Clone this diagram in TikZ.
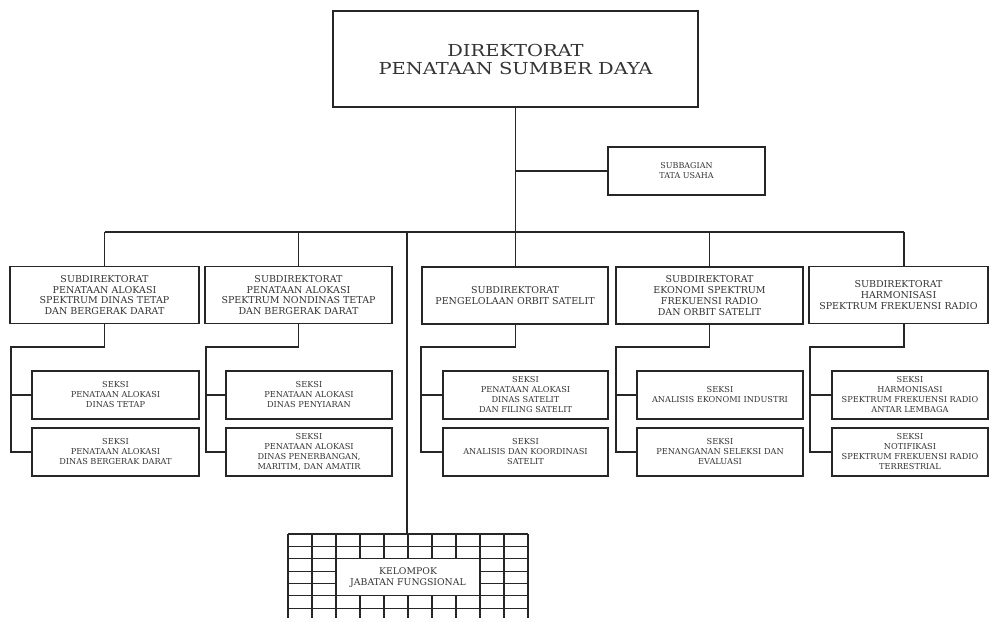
\documentclass[tikz,border=0pt]{standalone}
\usepackage{fontspec}
\setmainfont{DejaVu Serif}
\newfontfamily\headfont[FakeStretch=1.18]{DejaVu Serif}
\begin{document}
\begin{tikzpicture}[x=1pt,y=-1pt,
  line/.style={draw=black!85,line width=1.3pt},
  orgbox/.style={line,rectangle,align=center,inner sep=0pt,text=black!80},
  headbox/.style={orgbox,font=\headfont\fontsize{16.5}{18}\selectfont},
  subbox/.style={orgbox,minimum height=57pt,font=\fontsize{9.5}{10.8}\selectfont},
  seksibox/.style={orgbox,minimum height=48pt,font=\fontsize{8.2}{10}\selectfont},
  smallbox/.style={orgbox,font=\fontsize{8}{10}\selectfont},
  gridline/.style={draw=black!85,line width=1.1pt}
]
\useasboundingbox[fill=white] (0,0) rectangle (989,618);

% Director
\node[headbox,minimum width=365pt,minimum height=96pt] (dir) at (515.5,59)
  {DIREKTORAT\\PENATAAN SUMBER DAYA};

% Administration unit
\node[smallbox,minimum width=157pt,minimum height=48pt] (tu) at (686.5,171)
  {SUBBAGIAN\\TATA USAHA};

% Sub-directorates
\node[subbox,minimum width=189pt] (s1) at (104.5,295)
  {SUBDIREKTORAT\\PENATAAN ALOKASI\\SPEKTRUM DINAS TETAP\\DAN BERGERAK DARAT};
\node[subbox,minimum width=187pt] (s2) at (298.5,295)
  {SUBDIREKTORAT\\PENATAAN ALOKASI\\SPEKTRUM NONDINAS TETAP\\DAN BERGERAK DARAT};
\node[subbox,minimum width=186pt] (s3) at (515,295.5)
  {SUBDIREKTORAT\\PENGELOLAAN ORBIT SATELIT};
\node[subbox,minimum width=187pt] (s4) at (709.5,295.5)
  {SUBDIREKTORAT\\EKONOMI SPEKTRUM\\FREKUENSI RADIO\\DAN ORBIT SATELIT};
\node[subbox,minimum width=179pt] (s5) at (898.5,295)
  {SUBDIREKTORAT\\HARMONISASI\\SPEKTRUM FREKUENSI RADIO};

% Sections
\node[seksibox,minimum width=167pt] (k11) at (115.5,395)
  {SEKSI\\PENATAAN ALOKASI\\DINAS TETAP};
\node[seksibox,minimum width=167pt] (k12) at (115.5,452)
  {SEKSI\\PENATAAN ALOKASI\\DINAS BERGERAK DARAT};
\node[seksibox,minimum width=166pt] (k21) at (309,395)
  {SEKSI\\PENATAAN ALOKASI\\DINAS PENYIARAN};
\node[seksibox,minimum width=166pt] (k22) at (309,452)
  {SEKSI\\PENATAAN ALOKASI\\DINAS PENERBANGAN,\\MARITIM, DAN AMATIR};
\node[seksibox,minimum width=165pt] (k31) at (525.5,395)
  {SEKSI\\PENATAAN ALOKASI\\DINAS SATELIT\\DAN FILING SATELIT};
\node[seksibox,minimum width=165pt] (k32) at (525.5,452)
  {SEKSI\\ANALISIS DAN KOORDINASI\\SATELIT};
\node[seksibox,minimum width=166pt] (k41) at (720,395)
  {SEKSI\\ANALISIS EKONOMI INDUSTRI};
\node[seksibox,minimum width=166pt] (k42) at (720,452)
  {SEKSI\\PENANGANAN SELEKSI DAN\\EVALUASI};
\node[seksibox,minimum width=156pt] (k51) at (910,395)
  {SEKSI\\HARMONISASI\\SPEKTRUM FREKUENSI RADIO\\ANTAR LEMBAGA};
\node[seksibox,minimum width=156pt] (k52) at (910,452)
  {SEKSI\\NOTIFIKASI\\SPEKTRUM FREKUENSI RADIO\\TERRESTRIAL};

% Functional group: tiled grid with a plain panel in the middle
\foreach \i in {0,...,10}
  \draw[gridline] (288+24*\i,534) -- (288+24*\i,618);
\foreach \j in {0,...,6}
  \draw[gridline] (288,534+12.35*\j) -- (528,534+12.35*\j);
\node[smallbox,fill=white,line width=1.1pt,minimum width=144pt,minimum height=37pt,
  font=\fontsize{9.3}{11}\selectfont] (kjf) at (408,577.3)
  {KELOMPOK\\JABATAN FUNGSIONAL};
\coordinate (gtop) at (407,534);

% Main bus
\coordinate (busL) at (105,232);
\coordinate (busR) at (904,232);
\draw[line] (s1.north |- busL) -- (busR);

% Trunk from the director, with the administration branch
\draw[line] (dir.south) -- (dir.south |- s3.north);
\draw[line] (dir.south |- tu.west) -- (tu.west);

% Drops to the sub-directorates and the functional group
\draw[line] (s1.north |- busL) -- (s1.north);
\draw[line] (s2.north |- busL) -- (s2.north);
\draw[line] (s4.north |- busL) -- (s4.north);
\draw[line] (busR) -- (busR |- s5.north);
\draw[line] (gtop |- busL) -- (gtop);

% Elbows from each sub-directorate to its sections
\coordinate (j1) at (11,347);
\coordinate (j2) at (206,347);
\coordinate (j3) at (421,347);
\coordinate (j4) at (616,347);
\coordinate (j5) at (810,347);
\draw[line] (s1.south) |- (j1) |- (k12.west);
\draw[line] (j1 |- k11.west) -- (k11.west);
\draw[line] (s2.south) |- (j2) |- (k22.west);
\draw[line] (j2 |- k21.west) -- (k21.west);
\draw[line] (dir.south |- s3.south) |- (j3) |- (k32.west);
\draw[line] (j3 |- k31.west) -- (k31.west);
\draw[line] (s4.south) |- (j4) |- (k42.west);
\draw[line] (j4 |- k41.west) -- (k41.west);
\draw[line] (busR |- s5.south) |- (j5) |- (k52.west);
\draw[line] (j5 |- k51.west) -- (k51.west);
\end{tikzpicture}
\end{document}
